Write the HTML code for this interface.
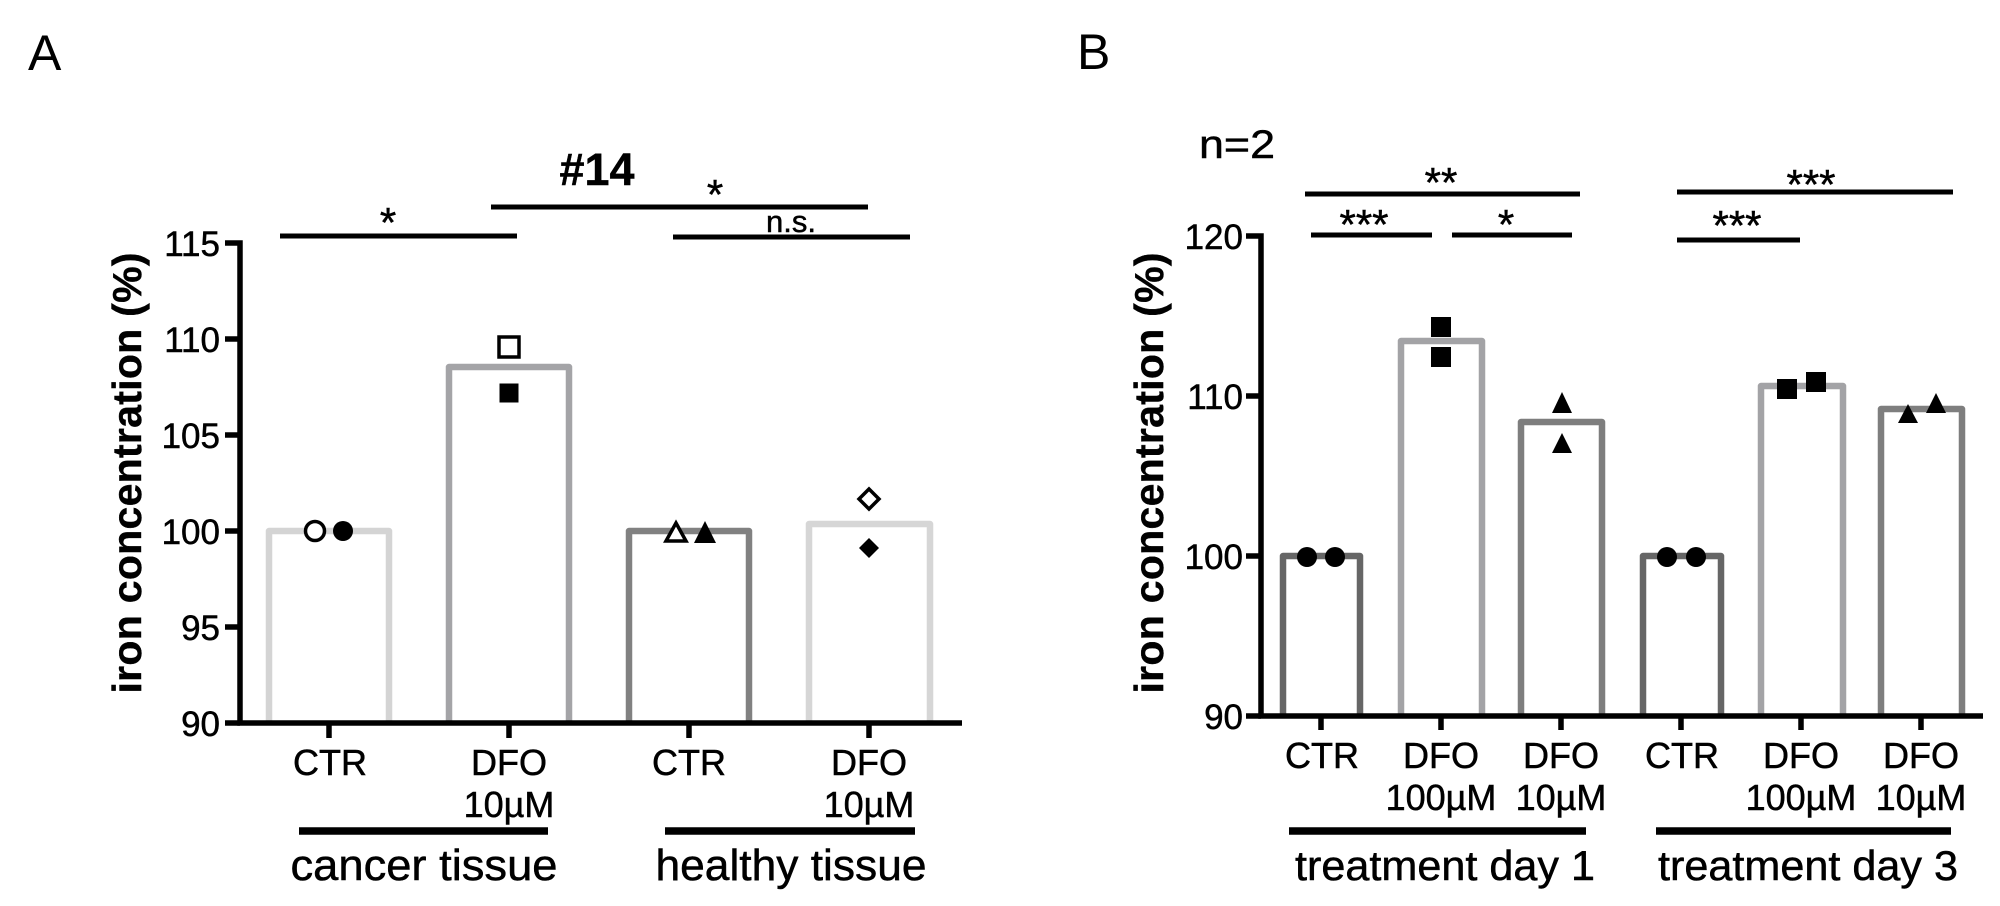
<!DOCTYPE html>
<html><head><meta charset="utf-8"><style>
html,body{margin:0;padding:0;background:#fff;}
svg{display:block;}
text{font-family:"Liberation Sans",Arial,sans-serif;fill:#000;stroke:#000;stroke-width:0.5px;}
text.b{stroke-width:0.4px;}
</style></head><body>
<svg width="2000" height="906" viewBox="0 0 2000 906" xmlns="http://www.w3.org/2000/svg">
<rect width="2000" height="906" fill="#fff"/>

<!-- ===== Panel A ===== -->
<text x="28" y="70" font-size="50" style="stroke-width:0">A</text>
<text class="b" x="597" y="185" font-size="45" font-weight="bold" text-anchor="middle">#14</text>

<!-- significance A -->
<g stroke="#000" stroke-width="5">
<line x1="280" y1="236" x2="517" y2="236"/>
<line x1="491" y1="207" x2="868" y2="207"/>
<line x1="673" y1="237" x2="910" y2="237"/>
</g>
<text x="388" y="237" font-size="42" text-anchor="middle">*</text>
<text x="715" y="209" font-size="42" text-anchor="middle">*</text>
<text x="791" y="232" font-size="31" text-anchor="middle">n.s.</text>

<!-- y label A -->
<text class="b" transform="translate(141,473) rotate(-90)" font-size="41" font-weight="bold" text-anchor="middle" textLength="441" lengthAdjust="spacing">iron concentration (%)</text>

<!-- bars A -->
<g fill="none" stroke-width="6.5" stroke-linejoin="round">
<path d="M269,723 V531 H389 V723" stroke="#d4d4d4"/>
<path d="M449,723 V367 H569 V723" stroke="#a4a4a7"/>
<path d="M629,723 V531 H749 V723" stroke="#818181"/>
<path d="M809,723 V524 H930 V723" stroke="#d6d6d6"/>
</g>

<!-- axes A -->
<g stroke="#000" stroke-width="5.5" fill="none">
<path d="M225,243 H240 V723 H962"/>
<line x1="225" y1="339" x2="240" y2="339"/>
<line x1="225" y1="435" x2="240" y2="435"/>
<line x1="225" y1="531" x2="240" y2="531"/>
<line x1="225" y1="627" x2="240" y2="627"/>
<line x1="225" y1="723" x2="240" y2="723"/>
<line x1="329" y1="723" x2="329" y2="738"/>
<line x1="509" y1="723" x2="509" y2="738"/>
<line x1="689" y1="723" x2="689" y2="738"/>
<line x1="869" y1="723" x2="869" y2="738"/>
</g>
<g font-size="35" text-anchor="end">
<text x="220" y="256">115</text>
<text x="220" y="352">110</text>
<text x="220" y="448">105</text>
<text x="220" y="544">100</text>
<text x="220" y="640">95</text>
<text x="220" y="736">90</text>
</g>

<!-- markers A -->
<circle cx="315" cy="531" r="9.5" fill="#fff" stroke="#000" stroke-width="3.5"/>
<circle cx="343" cy="531" r="10" fill="#000"/>
<rect x="499" y="337" width="20" height="20" fill="#fff" stroke="#000" stroke-width="3.5"/>
<rect x="499.5" y="383.5" width="19" height="19" fill="#000"/>
<path d="M676,523 L686,541 H666 Z" fill="#fff" stroke="#000" stroke-width="3.5" stroke-linejoin="miter"/>
<path d="M705,521 L716,543 H694 Z" fill="#000"/>
<path d="M869,489 L879,499 L869,509 L859,499 Z" fill="#fff" stroke="#000" stroke-width="3.5"/>
<path d="M869,538 L879,548 L869,558 L859,548 Z" fill="#000"/>

<!-- x labels A -->
<g font-size="36" text-anchor="middle">
<text x="330" y="775">CTR</text>
<text x="509" y="775">DFO</text>
<text x="509" y="817">10µM</text>
<text x="689" y="775">CTR</text>
<text x="869" y="775">DFO</text>
<text x="869" y="817">10µM</text>
</g>
<g stroke="#000" stroke-width="7.5">
<line x1="299" y1="831" x2="548" y2="831"/>
<line x1="665" y1="831" x2="915" y2="831"/>
</g>
<text x="424" y="880" font-size="44" text-anchor="middle" textLength="267" lengthAdjust="spacingAndGlyphs">cancer tissue</text>
<text x="791" y="880" font-size="44" text-anchor="middle" textLength="271" lengthAdjust="spacingAndGlyphs">healthy tissue</text>

<!-- ===== Panel B ===== -->
<text x="1077" y="69" font-size="50" style="stroke-width:0">B</text>
<text x="1237" y="158" font-size="40" text-anchor="middle" textLength="76" lengthAdjust="spacingAndGlyphs">n=2</text>

<g stroke="#000" stroke-width="5">
<line x1="1305" y1="194" x2="1580" y2="194"/>
<line x1="1311" y1="235" x2="1432" y2="235"/>
<line x1="1452" y1="235" x2="1572" y2="235"/>
<line x1="1677" y1="192" x2="1953" y2="192"/>
<line x1="1677" y1="240" x2="1800" y2="240"/>
</g>
<g font-size="42" text-anchor="middle">
<text x="1441" y="197">**</text>
<text x="1364" y="239">***</text>
<text x="1506" y="239">*</text>
<text x="1811" y="199">***</text>
<text x="1737" y="240">***</text>
</g>

<text class="b" transform="translate(1163,473) rotate(-90)" font-size="41" font-weight="bold" text-anchor="middle" textLength="441" lengthAdjust="spacing">iron concentration (%)</text>

<!-- bars B -->
<g fill="none" stroke-width="6.5" stroke-linejoin="round">
<path d="M1283,716 V556 H1360 V716" stroke="#666666"/>
<path d="M1401,716 V341 H1482 V716" stroke="#a3a3a6"/>
<path d="M1521,716 V422 H1602 V716" stroke="#7e7e7e"/>
<path d="M1643,716 V556 H1721 V716" stroke="#666666"/>
<path d="M1761,716 V386 H1843 V716" stroke="#a3a3a6"/>
<path d="M1881,716 V409 H1962 V716" stroke="#7e7e7e"/>
</g>

<g stroke="#000" stroke-width="5.5" fill="none">
<path d="M1246,236 H1261 V716 H1983"/>
<line x1="1246" y1="396" x2="1261" y2="396"/>
<line x1="1246" y1="556" x2="1261" y2="556"/>
<line x1="1246" y1="716" x2="1261" y2="716"/>
<line x1="1321" y1="716" x2="1321" y2="730"/>
<line x1="1441" y1="716" x2="1441" y2="730"/>
<line x1="1561" y1="716" x2="1561" y2="730"/>
<line x1="1681" y1="716" x2="1681" y2="730"/>
<line x1="1801" y1="716" x2="1801" y2="730"/>
<line x1="1921" y1="716" x2="1921" y2="730"/>
</g>
<g font-size="35" text-anchor="end">
<text x="1243" y="249">120</text>
<text x="1243" y="409">110</text>
<text x="1243" y="569">100</text>
<text x="1243" y="729">90</text>
</g>

<!-- markers B -->
<circle cx="1307" cy="557" r="10" fill="#000"/>
<circle cx="1335" cy="557" r="10" fill="#000"/>
<circle cx="1667" cy="557" r="10" fill="#000"/>
<circle cx="1696" cy="557" r="10" fill="#000"/>
<rect x="1431" y="317" width="20" height="20" fill="#000"/>
<rect x="1431" y="347" width="20" height="20" fill="#000"/>
<rect x="1777" y="379" width="20" height="20" fill="#000"/>
<rect x="1806" y="372" width="20" height="20" fill="#000"/>
<path d="M1562,392 L1572,413 H1552 Z" fill="#000"/>
<path d="M1562,433 L1572,453 H1552 Z" fill="#000"/>
<path d="M1908,404 L1918,423 H1898 Z" fill="#000"/>
<path d="M1936,393 L1946,413 H1926 Z" fill="#000"/>

<g font-size="36" text-anchor="middle">
<text x="1322" y="768">CTR</text>
<text x="1441" y="768">DFO</text>
<text x="1441" y="810">100µM</text>
<text x="1561" y="768">DFO</text>
<text x="1561" y="810">10µM</text>
<text x="1682" y="768">CTR</text>
<text x="1801" y="768">DFO</text>
<text x="1801" y="810">100µM</text>
<text x="1921" y="768">DFO</text>
<text x="1921" y="810">10µM</text>
</g>
<g stroke="#000" stroke-width="7.5">
<line x1="1289" y1="831" x2="1586" y2="831"/>
<line x1="1656" y1="831" x2="1951" y2="831"/>
</g>
<text x="1445" y="880" font-size="42" text-anchor="middle" textLength="300" lengthAdjust="spacingAndGlyphs">treatment day 1</text>
<text x="1808" y="880" font-size="42" text-anchor="middle" textLength="300" lengthAdjust="spacingAndGlyphs">treatment day 3</text>
</svg>
</body></html>
